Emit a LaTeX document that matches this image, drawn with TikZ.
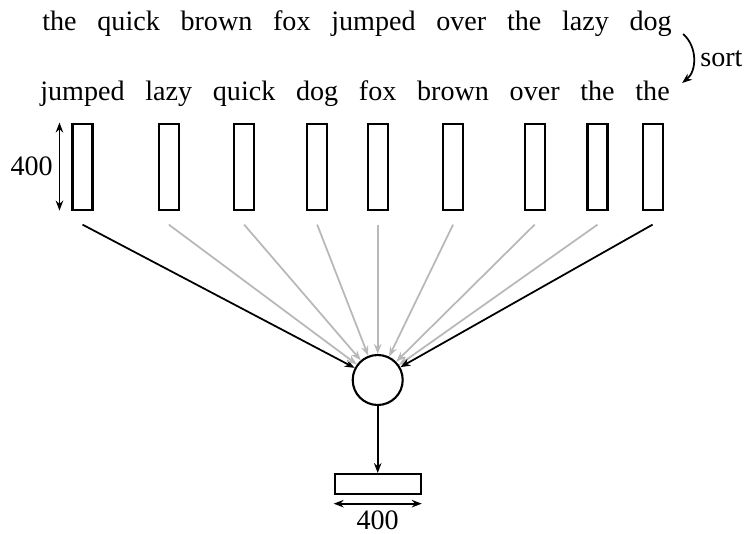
\documentclass[tikz,border=0pt]{standalone}
\usepackage{fontspec}
\setmainfont{Liberation Serif}
\usepackage{tikz}
\usetikzlibrary{positioning}
\usetikzlibrary{arrows.meta}
\tikzstyle{word} = [inner sep=0pt]
\tikzstyle{bar} = [rectangle, minimum width=0.4cm, minimum height=1.72cm, inner sep=0pt, draw=black, line width=1.2pt]
\tikzstyle{flatbar} = [rectangle, minimum width=1.72cm, minimum height=0.4cm, inner sep=0pt, draw=black, line width=1.2pt]
\tikzstyle{merge} = [circle, minimum size=1cm, inner sep=0pt, draw=black, line width=1.2pt]
\tikzstyle{arrow} = [line width=1pt,->,>={Stealth[length=2mm,width=1.5mm]}]
\tikzstyle{fade} = [line width=1pt,->,>={Stealth[length=2mm,width=1.5mm]}, draw=black!28]
\tikzstyle{measure} = [line width=1pt,<->,>={Stealth[length=2mm,width=1.5mm]}]

\begin{document}
\begin{tikzpicture}[font=\fontsize{16}{19}\selectfont]
        \useasboundingbox (0,0) rectangle (15.06,-10.68);
        % input sentence
        \node (t1) [word, anchor=base west] at (0.84,-0.60) {the};
        \node (t2) [word, base right=0.40cm of t1] {quick};
        \node (t3) [word, base right=0.40cm of t2] {brown};
        \node (t4) [word, base right=0.40cm of t3] {fox};
        \node (t5) [word, base right=0.40cm of t4] {jumped};
        \node (t6) [word, base right=0.40cm of t5] {over};
        \node (t7) [word, base right=0.40cm of t6] {the};
        \node (t8) [word, base right=0.40cm of t7] {lazy};
        \node (t9) [word, base right=0.40cm of t8] {dog};
        % sorted words
        \node (s1) [word, anchor=base west] at (0.80,-2.00) {jumped};
        \node (s2) [word, base right=0.40cm of s1] {lazy};
        \node (s3) [word, base right=0.40cm of s2] {quick};
        \node (s4) [word, base right=0.40cm of s3] {dog};
        \node (s5) [word, base right=0.40cm of s4] {fox};
        \node (s6) [word, base right=0.40cm of s5] {brown};
        \node (s7) [word, base right=0.40cm of s6] {over};
        \node (s8) [word, base right=0.40cm of s7] {the};
        \node (s9) [word, base right=0.40cm of s8] {the};
        % one bar per word
        \coordinate (bartop) at (0,-2.45);
        \node (b1) [bar, anchor=north] at (s1 |- bartop) {};
        \node (b2) [bar, anchor=north] at (s2 |- bartop) {};
        \node (b3) [bar, anchor=north] at (s3 |- bartop) {};
        \node (b4) [bar, anchor=north] at (s4 |- bartop) {};
        \node (b5) [bar, anchor=north] at (s5 |- bartop) {};
        \node (b6) [bar, anchor=north] at (s6 |- bartop) {};
        \node (b7) [bar, anchor=north] at (s7 |- bartop) {};
        \node (b8) [bar, anchor=north] at (s8 |- bartop) {};
        \node (b9) [bar, anchor=north] at (s9 |- bartop) {};
        \node (sum) [merge] at (b5 |- 0,-7.60) {};
        \node (out) [flatbar, below=1.34cm of sum] {};

        \draw [arrow] ([xshift=0.22cm,yshift=-0.08cm]t9.base east) to[bend left=50] node[right] {sort} ([xshift=0.24cm,yshift=0.34cm]s9.base east);
        \draw [measure] ([xshift=-0.24cm]b1.north west) -- node[left] {400} ([xshift=-0.24cm]b1.south west);
        \draw [arrow] ([yshift=-0.28cm]b1.south) -- (sum);
        \draw [fade] ([yshift=-0.28cm]b2.south) -- (sum);
        \draw [fade] ([yshift=-0.28cm]b3.south) -- (sum);
        \draw [fade] ([yshift=-0.28cm]b4.south) -- (sum);
        \draw [fade] ([yshift=-0.28cm]b5.south) -- (sum);
        \draw [fade] ([yshift=-0.28cm]b6.south) -- (sum);
        \draw [fade] ([yshift=-0.28cm]b7.south) -- (sum);
        \draw [fade] ([yshift=-0.28cm]b8.south) -- (sum);
        \draw [arrow] ([yshift=-0.28cm]b9.south) -- (sum);
        \draw [arrow] (sum) -- (out);
        \draw [measure] ([yshift=-0.17cm]out.south west) -- node[below] {400} ([yshift=-0.17cm]out.south east);
    \end{tikzpicture}
\end{document}
